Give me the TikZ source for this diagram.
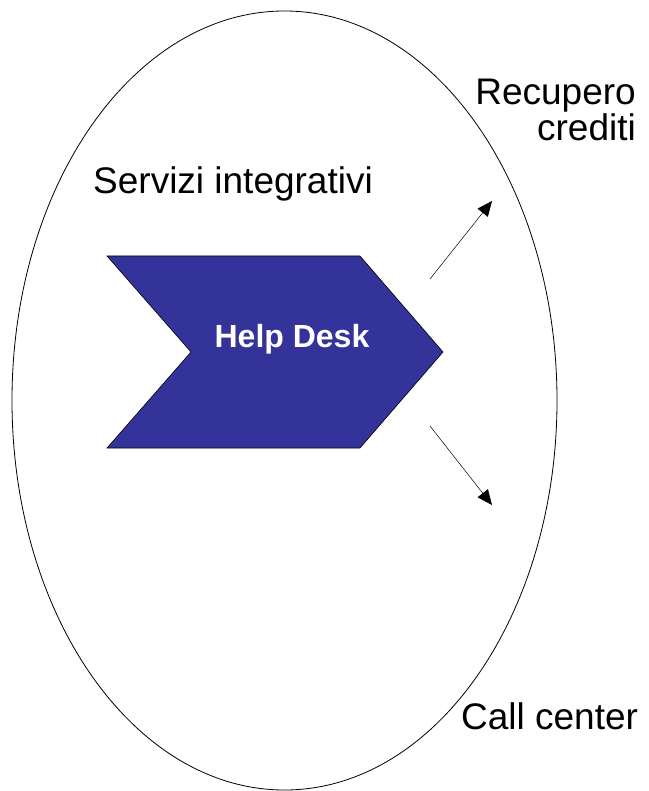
\documentclass[tikz,border=0pt]{standalone}
\usepackage{fontspec}
\setmainfont{Liberation Sans}
\usetikzlibrary{arrows.meta,shapes.geometric}
\definecolor{chevblue}{RGB}{51,51,153}
\tikzset{
  lbl/.style={inner sep=0pt, font=\fontsize{37}{38}\selectfont},
  outarrow/.style={line width=0.5pt, -{Triangle[length=15pt,width=13pt]}},
  chevron/.style={fill=chevblue, draw=black, line width=0.6pt}
}
\begin{document}
\begin{tikzpicture}[x=1pt,y=-1pt]
\useasboundingbox (0,0) rectangle (648,791);
\node[ellipse, draw=black, line width=0.8pt, minimum width=545pt, minimum height=779pt, inner sep=0pt] (scope) at (284.5,400.5) {};
\draw[chevron] (107,256) -- (360,256) -- (443,352) -- (360,448) -- (107,448) -- (191,352) -- cycle;
\node[inner sep=0pt, anchor=base, text=white, font=\fontsize{32}{36}\selectfont\bfseries] (help) at (292,347) {Help Desk};
\node[lbl, anchor=base west] (serv) at (93,194) {Servizi integrativi};
\node[lbl, anchor=base east] (rec1) at (636,105) {Recupero};
\node[lbl, anchor=base east] (rec2) at (636,141) {crediti};
\node[lbl, anchor=base west] (call) at (461,729) {Call center};
\coordinate (a1s) at (430,279);
\coordinate (a1e) at (492,201);
\coordinate (a2s) at (430,426);
\coordinate (a2e) at (492,505);
\draw[outarrow] (a1s) -- (a1e);
\draw[outarrow] (a2s) -- (a2e);
\end{tikzpicture}
\end{document}
